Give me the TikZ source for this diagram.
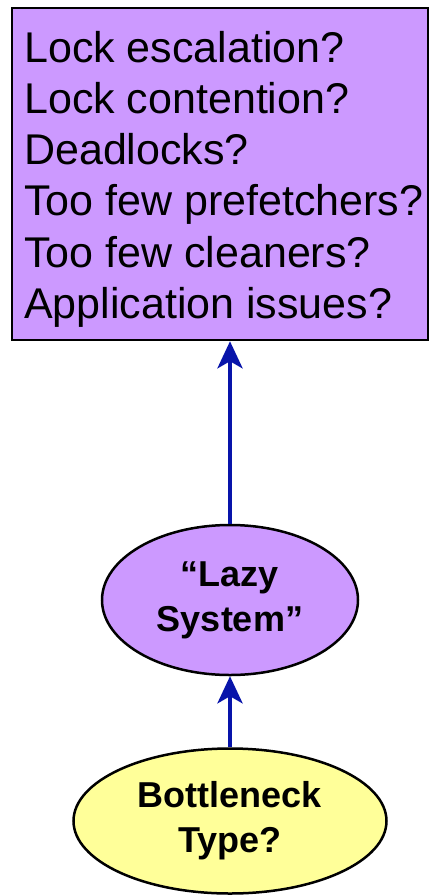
\documentclass[tikz,border=0pt]{standalone}
\usepackage{fontspec}
\setmainfont{Liberation Sans}
\usetikzlibrary{shapes.geometric,arrows.meta}
\definecolor{lilac}{RGB}{204,153,255}
\definecolor{paleyellow}{RGB}{255,255,153}
\definecolor{arrowblue}{RGB}{8,20,170}
\tikzset{
  qbox/.style={draw=black,line width=2.5pt,fill=lilac,rectangle,minimum width=416pt,minimum height=332pt,inner sep=0pt},
  qtext/.style={align=left,inner sep=0pt,font=\fontsize{43}{51.2}\selectfont},
  oval/.style={draw=black,line width=2.5pt,ellipse,inner sep=0pt,align=center,font=\fontsize{36}{45}\selectfont\bfseries},
  arr/.style={draw=arrowblue,line width=4.5pt,-{Stealth[length=27pt,width=25pt,inset=7pt]}}
}
\begin{document}
\begin{tikzpicture}[x=1pt,y=-1pt]
\useasboundingbox (0,0) rectangle (434,895);
\node[qbox] (box) at (220,174) {};
\node[qtext,anchor=north west] (boxtext) at (24,31) {Lock escalation?\\Lock contention?\\Deadlocks?\\Too few prefetchers?\\Too few cleaners?\\Application issues?};
\node[oval,fill=lilac,minimum width=256pt,minimum height=150pt] (lazy) at (230,600) {“Lazy\\System”};
\node[oval,fill=paleyellow,minimum width=313pt,minimum height=145pt] (bneck) at (230,821) {\raisebox{-6pt}{\begin{tabular}{@{}c@{}}Bottleneck\\Type?\end{tabular}}};
\draw[arr] (lazy.north) -- (lazy.north |- box.south);
\draw[arr] (bneck.north) -- (lazy.south);
\end{tikzpicture}
\end{document}
